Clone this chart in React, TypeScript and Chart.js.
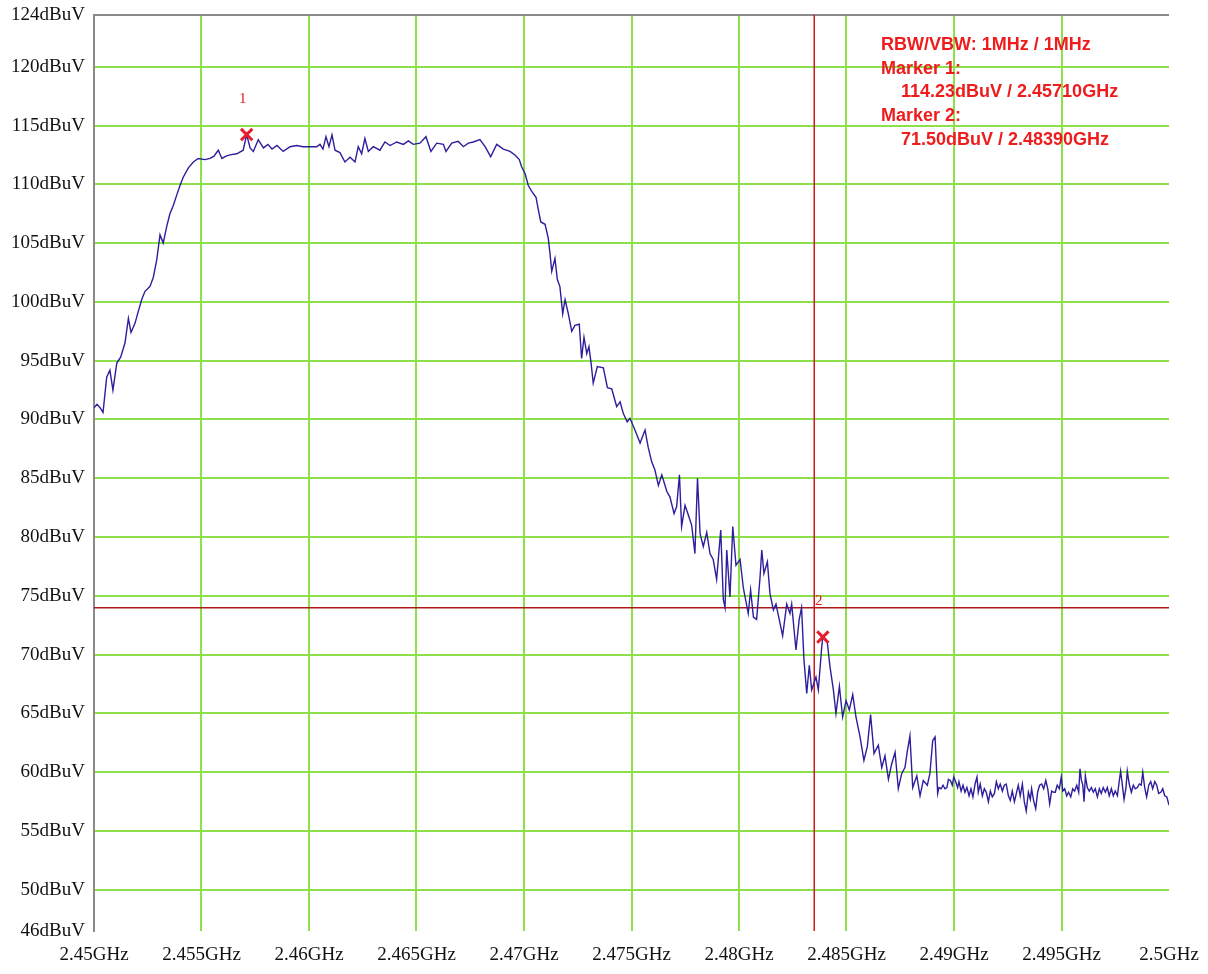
import React, { useEffect, useRef } from "react";
import { Chart, registerables } from "chart.js";

Chart.register(...registerables);

// ---- data ----
const FREQ_GHZ = [
  2.45, 2.45014, 2.45028, 2.45042, 2.45059, 2.45074, 2.45088, 2.45106, 2.45124, 2.45144,
  2.4516, 2.45172, 2.45191, 2.45206, 2.45222, 2.45237, 2.4526, 2.45276, 2.45292, 2.45307,
  2.45322, 2.45338, 2.45353, 2.45369, 2.45385, 2.454, 2.45415, 2.45439, 2.45462, 2.45485,
  2.45516, 2.4554, 2.45558, 2.45578, 2.45595, 2.45614, 2.45633, 2.45664, 2.45694, 2.4571,
  2.45726, 2.45741, 2.45764, 2.45788, 2.45809, 2.45828, 2.45851, 2.4588, 2.45912, 2.45943,
  2.45972, 2.46005, 2.46036, 2.46051, 2.46065, 2.46079, 2.46093, 2.46107, 2.46121, 2.46144,
  2.46167, 2.46191, 2.46214, 2.46229, 2.46245, 2.4626, 2.46276, 2.46299, 2.4633, 2.46353,
  2.46377, 2.46408, 2.46439, 2.46462, 2.46485, 2.46516, 2.46544, 2.46567, 2.46594, 2.46625,
  2.46637, 2.46664, 2.46694, 2.46718, 2.46741, 2.46764, 2.46795, 2.46819, 2.46845, 2.46873,
  2.46904, 2.46935, 2.46958, 2.46978, 2.46989, 2.47005, 2.4702, 2.47036, 2.47056, 2.47067,
  2.47078, 2.47098, 2.47113, 2.47121, 2.47129, 2.47144, 2.47155, 2.47167, 2.4718, 2.47191,
  2.47206, 2.47222, 2.47237, 2.47257, 2.47268, 2.47279, 2.47292, 2.47302, 2.47312, 2.47322,
  2.47341, 2.47369, 2.47388, 2.47408, 2.47431, 2.47447, 2.47462, 2.4748, 2.47493, 2.47516,
  2.4754, 2.47563, 2.47578, 2.47594, 2.47609, 2.47625, 2.47641, 2.47664, 2.47679, 2.47698,
  2.4771, 2.47723, 2.47733, 2.47749, 2.47764, 2.4778, 2.47795, 2.47807, 2.47819, 2.47834,
  2.4785, 2.47865, 2.4788, 2.47896, 2.47915, 2.47927, 2.47935, 2.47943, 2.47958, 2.47971,
  2.47986, 2.48005, 2.4802, 2.48043, 2.48054, 2.48067, 2.48082, 2.48098, 2.48106, 2.48116,
  2.48132, 2.48144, 2.4816, 2.48172, 2.48187, 2.48203, 2.48222, 2.48237, 2.48245, 2.48265,
  2.4828, 2.48291, 2.48302, 2.48315, 2.48327, 2.48338, 2.48358, 2.48369, 2.48385, 2.4839,
  2.48411, 2.48423, 2.48439, 2.48451, 2.48467, 2.48482, 2.48498, 2.48513, 2.48529, 2.48544,
  2.48563, 2.48581, 2.48597, 2.48612, 2.48628, 2.48648, 2.48664, 2.48679, 2.48695, 2.4871,
  2.48726, 2.48741, 2.48757, 2.48772, 2.48783, 2.48795, 2.48808, 2.48827, 2.48842, 2.48857,
  2.48876, 2.48888, 2.48901, 2.48912,
  2.48924, 2.4893, 2.4894, 2.48949, 2.48958, 2.48967, 2.48974, 2.48983, 2.48992, 2.48999,
  2.49008, 2.49017, 2.49023, 2.49033, 2.49042, 2.49051, 2.4906, 2.4907, 2.49079, 2.49088,
  2.49098, 2.49107, 2.49113, 2.49122, 2.49132, 2.49141, 2.4915, 2.4916, 2.49169, 2.49178,
  2.49188, 2.49197, 2.49206, 2.49215, 2.49225, 2.49234, 2.49243, 2.49253, 2.49262, 2.49271,
  2.49281, 2.4929, 2.49299, 2.49308, 2.49318, 2.49327, 2.49336, 2.49346, 2.49355, 2.49361,
  2.4937, 2.4938, 2.49389, 2.49398, 2.49408, 2.49417, 2.49427, 2.49436, 2.49445, 2.49454,
  2.49464,
  2.49471, 2.4948, 2.4949, 2.49499, 2.49506, 2.49515, 2.49524, 2.49533, 2.49543, 2.49552,
  2.49561, 2.49571, 2.4958, 2.49586, 2.49592, 2.49599, 2.49605, 2.49611, 2.4962, 2.49629,
  2.49639, 2.49648, 2.49657, 2.49667, 2.49676, 2.49685, 2.49694, 2.49704, 2.49713, 2.49722,
  2.49732, 2.49741, 2.4975, 2.4976, 2.49769, 2.49775, 2.49781, 2.49791, 2.498, 2.49806,
  2.49815, 2.49825, 2.49834, 2.49843, 2.49853, 2.49862, 2.49871, 2.49878, 2.49887, 2.49896,
  2.49906, 2.49915, 2.49924, 2.49934, 2.49943, 2.49952, 2.49962, 2.49971, 2.4998, 2.4999,
  2.5,
];

const LEVEL_DBUV = [
  91.0, 91.3, 91.0, 90.6, 93.6, 94.2, 92.5, 94.8, 95.3, 96.5,
  98.6, 97.4, 98.2, 99.2, 100.2, 100.9, 101.3, 102.1, 103.6, 105.7,
  105.0, 106.4, 107.5, 108.2, 109.1, 109.9, 110.6, 111.4, 111.9, 112.2,
  112.1, 112.2, 112.4, 112.9, 112.2, 112.4, 112.5, 112.6, 112.9, 114.23,
  113.1, 112.8, 113.8, 113.1, 113.4, 113.0, 113.3, 112.8, 113.2, 113.3,
  113.2, 113.2, 113.2, 113.4, 113.0, 114.05, 113.2, 114.2, 112.9, 112.7,
  111.9, 112.3, 111.9, 113.2, 112.6, 113.9, 112.8, 113.2, 112.9, 113.6,
  113.3, 113.6, 113.4, 113.7, 113.4, 113.5, 114.05, 112.8, 113.5, 113.4,
  112.8, 113.5, 113.65, 113.2, 113.5, 113.6, 113.8, 113.2, 112.35, 113.4,
  113.0, 112.8, 112.5, 112.1, 111.5, 110.9, 109.9, 109.4, 108.9, 107.8,
  106.8, 106.6, 105.4, 104.1, 102.6, 103.7, 101.9, 101.3, 99.0, 100.2,
  99.0, 97.5, 98.0, 98.1, 95.2, 97.0, 95.6, 96.2, 94.8, 93.1,
  94.5, 94.4, 92.7, 92.6, 91.1, 91.5, 90.5, 89.8, 90.1, 89.1,
  88.0, 89.1, 87.6, 86.4, 85.7, 84.4, 85.3, 83.9, 83.4, 82.0,
  82.6, 85.3, 80.9, 82.7, 81.9, 81.0, 78.6, 85.0, 80.3, 79.2,
  80.4, 78.6, 78.1, 76.4, 80.6, 74.7, 74.0, 78.9, 74.9, 80.9,
  77.6, 78.1, 75.7, 73.5, 75.5, 73.2, 73.0, 76.6, 78.9, 76.9,
  77.9, 75.2, 73.8, 74.3, 73.0, 71.6, 74.3, 73.5, 74.3, 70.4,
  73.0, 74.0, 69.6, 66.7, 69.1, 67.0, 68.1, 67.0, 70.7, 71.5,
  71.0, 69.0, 67.0, 65.0, 67.3, 64.7, 66.1, 65.3, 66.6, 64.7,
  63.0, 61.0, 62.2, 64.9, 61.6, 62.3, 60.4, 61.4, 59.4, 60.7,
  61.7, 58.6, 59.9, 60.4, 61.8, 63.1, 58.7, 59.7, 58.0, 59.3,
  58.9, 59.9, 62.7, 63.0,
  58.2, 58.7, 58.6, 58.9, 58.6, 58.7, 59.4, 59.3, 58.9, 59.6,
  59.2, 58.7, 59.2, 58.4, 58.9, 58.3, 58.7, 58.0, 58.6, 57.9,
  59.0, 59.6, 58.3, 59.0, 58.0, 58.6, 58.3, 57.5, 58.4, 57.9,
  58.2, 59.2, 58.6, 59.0, 58.4, 58.9, 59.0, 58.0, 57.6, 58.4,
  57.5, 58.2, 58.9, 58.0, 59.0, 57.5, 56.7, 58.3, 57.7, 58.6,
  57.6, 56.9, 58.3, 58.9, 59.0, 58.6, 59.3, 58.6, 57.3, 58.4,
  58.3,
  58.3, 58.9, 58.6, 59.6, 58.4, 58.6, 58.0, 58.3, 57.9, 58.6,
  58.4, 58.9, 58.3, 60.3, 59.4, 58.9, 57.5, 59.7, 58.7, 58.4,
  58.7, 58.3, 58.6, 57.9, 58.6, 58.2, 58.7, 58.3, 58.7, 58.0,
  58.6, 58.0, 58.4, 58.0, 59.3, 60.1, 59.2, 57.7, 58.7, 60.1,
  59.0, 58.3, 58.9, 58.6, 58.7, 59.0, 58.9, 60.0, 58.7, 57.9,
  58.9, 59.2, 58.6, 59.2, 58.9, 58.2, 58.3, 58.6, 58.0, 57.9,
  57.2,
];

const X_TICKS = [2.45, 2.455, 2.46, 2.465, 2.47, 2.475, 2.48, 2.485, 2.49, 2.495, 2.5];
const X_TICK_LABELS = [
  "2.45GHz", "2.455GHz", "2.46GHz", "2.465GHz", "2.47GHz", "2.475GHz",
  "2.48GHz", "2.485GHz", "2.49GHz", "2.495GHz", "2.5GHz",
];
const Y_TICKS = [46.5, 50, 55, 60, 65, 70, 75, 80, 85, 90, 95, 100, 105, 110, 115, 120, 124.4];
const Y_TICK_LABELS = [
  "46dBuV", "50dBuV", "55dBuV", "60dBuV", "65dBuV", "70dBuV", "75dBuV", "80dBuV", "85dBuV",
  "90dBuV", "95dBuV", "100dBuV", "105dBuV", "110dBuV", "115dBuV", "120dBuV", "124dBuV",
];

const LIMIT_LEVEL = 74;
const BAND_EDGE_GHZ = 2.4835;

const MARKER_FREQS = [2.4571, 2.4839];
const MARKER_LEVELS = [114.23, 71.5];
const MARKER_NAMES = ["1", "2"];

const NOTE_LINES = [
  "RBW/VBW: 1MHz / 1MHz",
  "Marker 1:",
  "    114.23dBuV / 2.45710GHz",
  "Marker 2:",
  "    71.50dBuV / 2.48390GHz",
];

const GREEN = "#8ee04a";
const FRAME = "#8a8a8a";

const markerLabelPlugin = {
  id: "markerLabels",
  afterDatasetsDraw(chart: any) {
    const { ctx, scales } = chart;
    ctx.save();
    ctx.font = "15px 'Liberation Serif'";
    ctx.fillStyle = "#e02020";
    ctx.textAlign = "center";
    ctx.textBaseline = "middle";
    MARKER_NAMES.forEach((n, i) => {
      const px = scales.x.getPixelForValue(MARKER_FREQS[i]);
      const py = scales.y.getPixelForValue(MARKER_LEVELS[i]);
      ctx.fillText(n, px - 4, py - 36);
    });
    ctx.restore();
  },
};

const notePlugin = {
  id: "notes",
  afterDraw(chart: any) {
    const { ctx, chartArea } = chart;
    ctx.save();
    ctx.font = "bold 18px 'Liberation Sans'";
    ctx.fillStyle = "#ee1c1c";
    ctx.textAlign = "left";
    ctx.textBaseline = "middle";
    const left = chartArea.right - 288;
    NOTE_LINES.forEach((t, i) => {
      const indent = t.startsWith("    ") ? 20 : 0;
      ctx.fillText(t.trim(), left + indent, chartArea.top + 30 + i * 23.7);
    });
    ctx.restore();
  },
};

export default function App() {
  const ref = useRef<HTMLCanvasElement | null>(null);

  useEffect(() => {
    document.body.style.margin = "0";
    const canvas = ref.current;
    if (!canvas) return;
    const trace = FREQ_GHZ.map((f, i) => ({ x: f, y: LEVEL_DBUV[i] }));
    const markers = MARKER_FREQS.map((f, i) => ({ x: f, y: MARKER_LEVELS[i] }));
    const xMin = X_TICKS[0];
    const xMax = X_TICKS[X_TICKS.length - 1];
    const yMin = Y_TICKS[0];
    const yMax = Y_TICKS[Y_TICKS.length - 1];

    const chart = new Chart(canvas, {
      type: "line",
      data: {
        datasets: [
          {
            label: "markers",
            data: markers,
            showLine: false,
            pointStyle: "crossRot",
            pointRadius: 8,
            pointBorderWidth: 3,
            pointBorderColor: "#e61e2a",
            pointBackgroundColor: "#e61e2a",
            order: 0,
          } as any,
          {
            label: "trace",
            data: trace,
            borderColor: "#2d1e9c",
            borderWidth: 1.4,
            pointRadius: 0,
            tension: 0,
            fill: false,
            order: 1,
          },
          {
            label: "limit",
            data: [
              { x: xMin, y: LIMIT_LEVEL },
              { x: xMax, y: LIMIT_LEVEL },
            ],
            borderColor: "#b01818",
            borderWidth: 1.5,
            pointRadius: 0,
            order: 2,
          },
          {
            label: "edge",
            data: [
              { x: BAND_EDGE_GHZ, y: yMin },
              { x: BAND_EDGE_GHZ, y: yMax },
            ],
            borderColor: "#cc1a1a",
            borderWidth: 1.5,
            pointRadius: 0,
            order: 2,
          },
        ],
      },
      options: {
        animation: false,
        responsive: false,
        events: [],
        layout: { padding: { left: 0, top: 15, right: 39, bottom: 0 } },
        plugins: { legend: { display: false }, tooltip: { enabled: false } },
        scales: {
          x: {
            type: "linear",
            min: xMin,
            max: xMax,
            afterBuildTicks: (s: any) => {
              s.ticks = X_TICKS.map((v) => ({ value: v }));
            },
            afterFit: (s: any) => {
              s.height = 43;
              s.paddingLeft = 0;
              s.paddingRight = 0;
              s.paddingTop = 0;
              s.paddingBottom = 0;
            },
            ticks: {
              autoSkip: false,
              maxRotation: 0,
              padding: 13,
              color: "#111",
              font: { family: "'Liberation Serif'", size: 19 },
              callback: (v: any) => {
                const i = X_TICKS.findIndex((t) => Math.abs(t - Number(v)) < 1e-6);
                return i >= 0 ? X_TICK_LABELS[i] : "";
              },
            },
            grid: {
              drawTicks: false,
              lineWidth: 2,
              color: (c: any) =>
                c.index === 0 || c.index === X_TICKS.length - 1 ? "rgba(0,0,0,0)" : GREEN,
            },
            border: { display: false },
          },
          y: {
            type: "linear",
            min: yMin,
            max: yMax,
            afterBuildTicks: (s: any) => {
              s.ticks = Y_TICKS.map((v) => ({ value: v }));
            },
            afterFit: (s: any) => {
              s.width = 94;
              s.paddingLeft = 0;
              s.paddingRight = 0;
              s.paddingTop = 0;
              s.paddingBottom = 0;
            },
            ticks: {
              autoSkip: false,
              padding: 9,
              color: "#111",
              font: { family: "'Liberation Serif'", size: 19 },
              callback: (v: any) => {
                const i = Y_TICKS.findIndex((t) => Math.abs(t - Number(v)) < 1e-6);
                return i >= 0 ? Y_TICK_LABELS[i] : "";
              },
            },
            grid: {
              drawTicks: false,
              lineWidth: 2,
              color: (c: any) =>
                c.index === 0
                  ? "rgba(0,0,0,0)"
                  : c.index === Y_TICKS.length - 1
                  ? FRAME
                  : GREEN,
            },
            border: { display: true, color: FRAME, width: 2 },
          },
        },
      },
      plugins: [markerLabelPlugin, notePlugin],
    } as any);

    return () => chart.destroy();
  }, []);

  return (
    <div style={{ width: 1208, height: 974, background: "#fff" }}>
      <canvas ref={ref} width={1208} height={974} style={{ display: "block" }} />
    </div>
  );
}
